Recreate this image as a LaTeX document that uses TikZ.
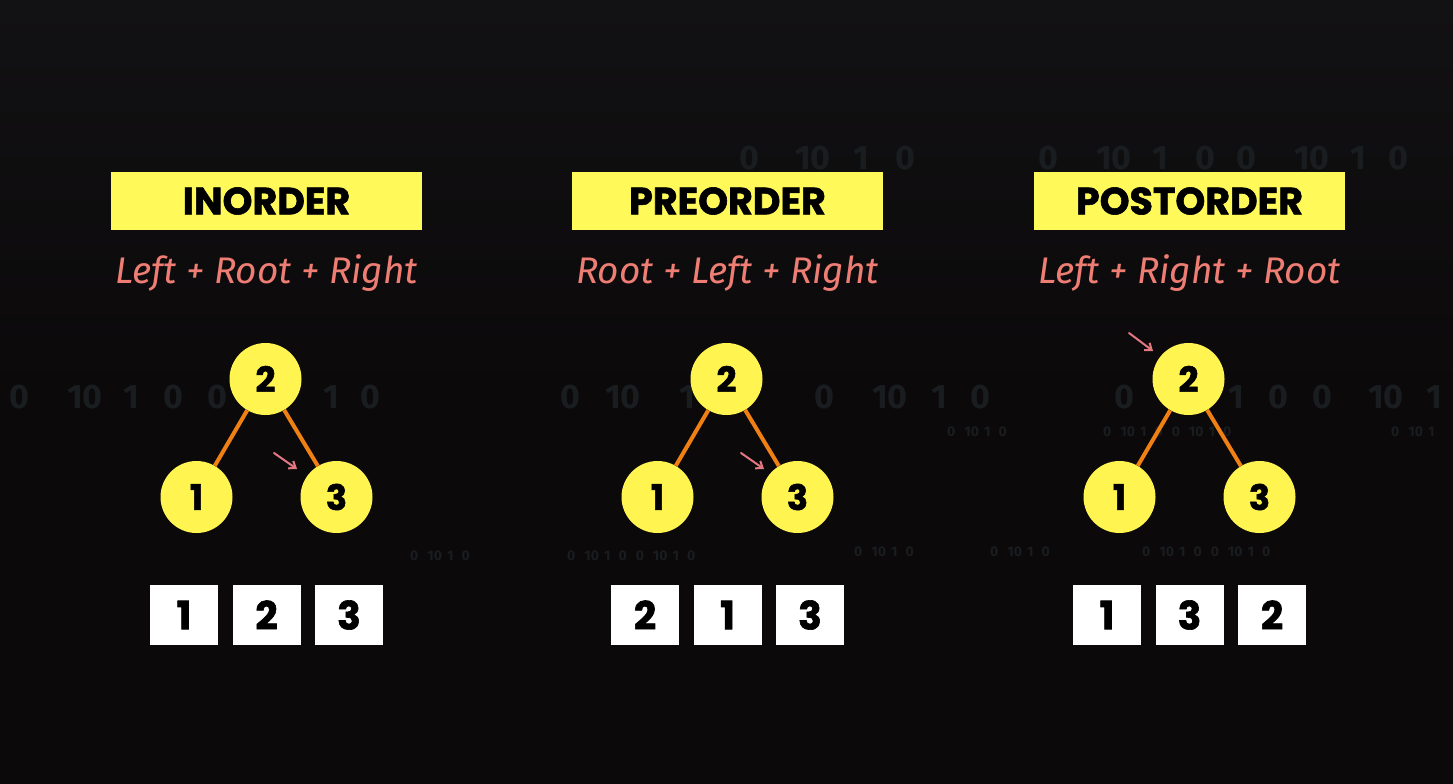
\documentclass[tikz,border=0pt]{standalone}
\usepackage{fontspec}
\setmainfont{Poppins}
\newfontfamily\subfont{Fira Sans}
\newfontfamily\heavy{Poppins Bold}[FakeBold=1.6]
\usetikzlibrary{arrows.meta}
\definecolor{bgc}{RGB}{11,9,10}
\definecolor{bgtop}{RGB}{18,17,19}
\definecolor{hy}{RGB}{255,250,90}
\definecolor{ny}{RGB}{255,244,80}
\definecolor{salmon}{RGB}{238,125,115}
\definecolor{eorange}{RGB}{240,128,20}
\definecolor{hintc}{RGB}{225,120,130}
\definecolor{digc}{RGB}{25,29,32}
\begin{document}
\begin{tikzpicture}[x=1pt,y=-1pt,
  head/.style={fill=hy, minimum width=311, minimum height=58, inner sep=0,
    text=black, font=\heavy\fontsize{38}{40}\selectfont},
  sub/.style={text=salmon, inner sep=0, font=\subfont\itshape\fontsize{37}{40}\selectfont},
  tnode/.style={circle, fill=ny, minimum size=72, inner sep=0, text=black,
    font=\heavy\fontsize{35}{37}\selectfont},
  cell/.style={fill=white, minimum width=68, minimum height=60, inner sep=0, text=black,
    font=\heavy\fontsize{39}{41}\selectfont},
  edge/.style={draw=eorange, line width=4},
  hint/.style={draw=hintc, line width=2, line cap=round, -{Straight Barb[length=6,width=9]}},
  bigdig/.style={text=digc, inner sep=0, anchor=west, font=\subfont\bfseries\fontsize{34}{36}\selectfont},
  smalldig/.style={text=digc, inner sep=0, anchor=west, font=\subfont\bfseries\fontsize{14}{15}\selectfont}]
\useasboundingbox (0,0) rectangle (1453,784);
\shade[top color=bgtop, bottom color=bgc] (0,0) rectangle (1453,400);
\fill[bgc] (0,400) rectangle (1453,784);
% faint background digits
\foreach \x/\t in {739/0,795/10,853/1,895/0,1038/0,1096/10,1152/1,1195/0,1236/0,1294/10,1350/1,1388/0}
  \node[bigdig, name=bt\x] at (\x,158) {\t};
\foreach \x/\t in {9/0,67/10,123/1,163/0,207/0,323/1,360/0,560/0,605/10,679/1,814/0,872/10,931/1,970/0,1114/0,1228/1,1268/0,1312/0,1368/10,1426/1}
  \node[bigdig, name=bm\x] at (\x,397) {\t};
\node[smalldig] (s1) at (947,432) {0\hspace{9pt}10\hspace{5pt}1\hspace{8pt}0};
\node[smalldig] (s2) at (1103,432) {0\hspace{9pt}10\hspace{5pt}1\hspace{8pt}0\hspace{9pt}0\hspace{9pt}10\hspace{5pt}1\hspace{8pt}0};
\node[smalldig] (s3) at (1391,432) {0\hspace{9pt}10\hspace{5pt}1};
\node[smalldig] (s4) at (410,556) {0\hspace{9pt}10\hspace{5pt}1\hspace{8pt}0};
\node[smalldig] (s5) at (567,556) {0\hspace{9pt}10\hspace{5pt}1\hspace{8pt}0\hspace{9pt}0\hspace{9pt}10\hspace{5pt}1\hspace{8pt}0};
\node[smalldig] (s6) at (854,552) {0\hspace{9pt}10\hspace{5pt}1\hspace{8pt}0};
\node[smalldig] (s7) at (990,552) {0\hspace{9pt}10\hspace{5pt}1\hspace{8pt}0};
\node[smalldig] (s8) at (1142,552) {0\hspace{9pt}10\hspace{5pt}1\hspace{8pt}0\hspace{9pt}0\hspace{9pt}10\hspace{5pt}1\hspace{8pt}0};
\foreach \cx/\nm/\ttl/\sb/\a/\b/\c in {
  266.5/in/INORDER/{Left + Root + Right}/1/2/3,
  727.5/pre/PREORDER/{Root + Left + Right}/2/1/3,
  1189.5/post/POSTORDER/{Left + Right + Root}/1/3/2}{
  \node[head] (h\nm) at (\cx,201) {\ttl};
  \node[sub] (s\nm) at (\cx,273) {\sb};
  \node[tnode] (r\nm) at (\cx-1,379) {2};
  \node[tnode] (l\nm) at (\cx-70,497) {1};
  \node[tnode] (g\nm) at (\cx+70,497) {3};
  \draw[edge] (r\nm) -- (l\nm);
  \draw[edge] (r\nm) -- (g\nm);
  \node[cell] (ca\nm) at (\cx-82.5,615) {\a};
  \node[cell] (cb\nm) at (\cx,615) {\b};
  \node[cell] (cc\nm) at (\cx+82.5,615) {\c};
}
\coordinate (ain1) at (274,453);
\coordinate (ain2) at (297,469);
\draw[hint] (ain1) -- (ain2);
\coordinate (apre1) at (741,453);
\coordinate (apre2) at (764,469);
\draw[hint] (apre1) -- (apre2);
\coordinate (apost1) at (1129,333);
\coordinate (apost2) at (1153,351);
\draw[hint] (apost1) -- (apost2);
\end{tikzpicture}
\end{document}
